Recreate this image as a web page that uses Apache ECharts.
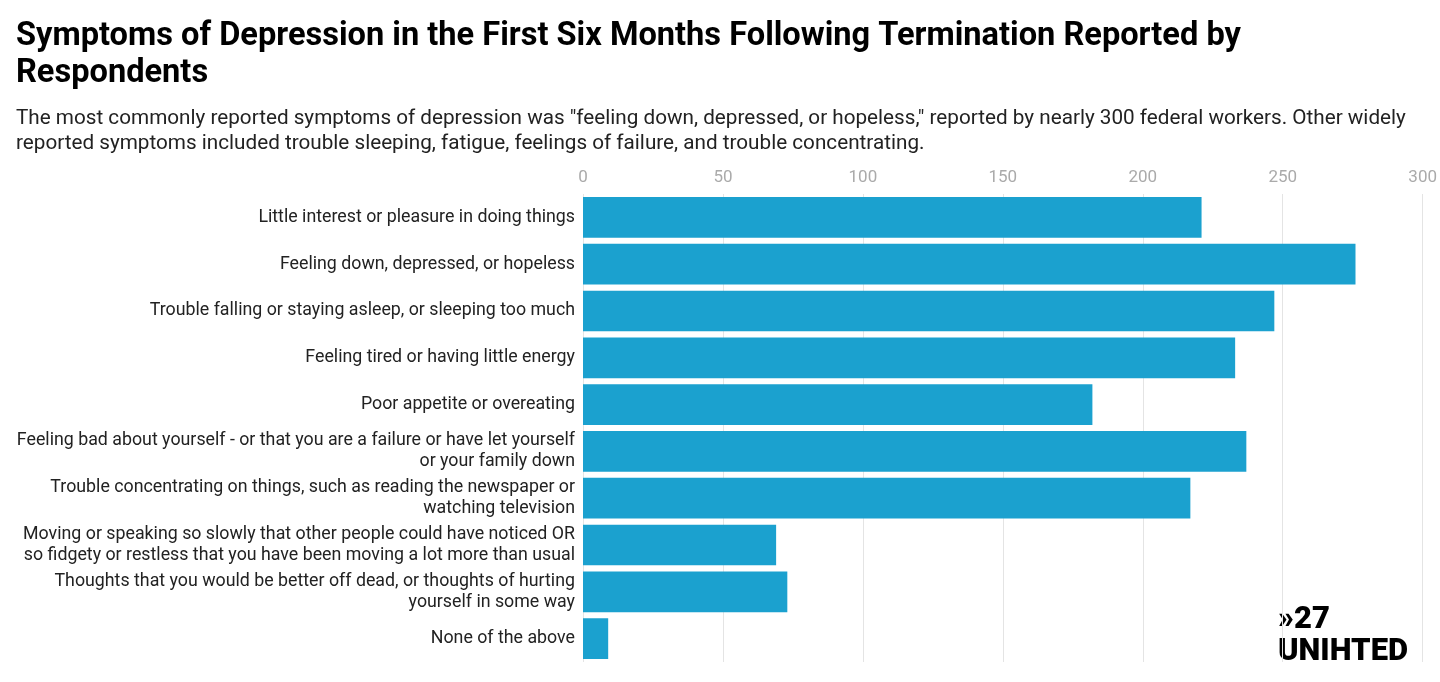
<!DOCTYPE html>
<html>
<head>
<meta charset="utf-8">
<script src="https://cdn.jsdelivr.net/npm/echarts@6/dist/echarts.min.js"></script>
<style>
  body { margin: 0; background: #fff; }
  #main { width: 1440px; height: 682px; }
</style>
</head>
<body>
<div id="main"></div>
<script>
var categories = [
  'Little interest or pleasure in doing things',
  'Feeling down, depressed, or hopeless',
  'Trouble falling or staying asleep, or sleeping too much',
  'Feeling tired or having little energy',
  'Poor appetite or overeating',
  'Feeling bad about yourself - or that you are a failure or have let yourself\nor your family down',
  'Trouble concentrating on things, such as reading the newspaper or\nwatching television',
  'Moving or speaking so slowly that other people could have noticed OR\nso fidgety or restless that you have been moving a lot more than usual',
  'Thoughts that you would be better off dead, or thoughts of hurting\nyourself in some way',
  'None of the above'
];
var counts = [221, 276, 247, 233, 182, 237, 217, 69, 73, 9];

var myChart = echarts.init(document.getElementById('main'));
var option = {
  animation: false,
  textStyle: { fontFamily: 'Roboto' },
  title: {
    text: 'Symptoms of Depression in the First Six Months Following Termination Reported by\nRespondents',
    subtext: 'The most commonly reported symptoms of depression was "feeling down, depressed, or hopeless," reported by nearly 300 federal workers. Other widely\nreported symptoms included trouble sleeping, fatigue, feelings of failure, and trouble concentrating.',
    left: 11, top: 13, itemGap: 14,
    textStyle: { fontSize: 32.6, fontWeight: 'bold', color: '#000', lineHeight: 37, fontFamily: 'Roboto' },
    subtextStyle: { fontSize: 20.7, color: '#222', lineHeight: 25, fontFamily: 'Roboto' }
  },
  grid: { left: 583, right: 17, top: 194, bottom: 20 },
  xAxis: {
    type: 'value', position: 'top', min: 0, max: 300, interval: 50,
    axisLabel: { color: '#aaa', fontSize: 17, margin: 8 },
    axisLine: { show: false }, axisTick: { show: false },
    splitLine: { lineStyle: { color: '#e4e4e4' } }
  },
  yAxis: {
    type: 'category', inverse: true, data: categories,
    axisLabel: { color: '#222', fontSize: 17.8, lineHeight: 21, margin: 8, align: 'right' },
    axisLine: { show: false }, axisTick: { show: false }
  },
  series: [{
    type: 'bar', data: counts, barCategoryGap: '13%',
    itemStyle: { color: '#1ba1cf' }
  }],
  graphic: [{
    type: 'text', left: 1278, top: 604,
    style: { text: '»27\nUNIHTED', font: '900 31px Roboto', fill: '#000', lineHeight: 32 }
  }]
};
myChart.setOption(option);
</script>
</body>
</html>
